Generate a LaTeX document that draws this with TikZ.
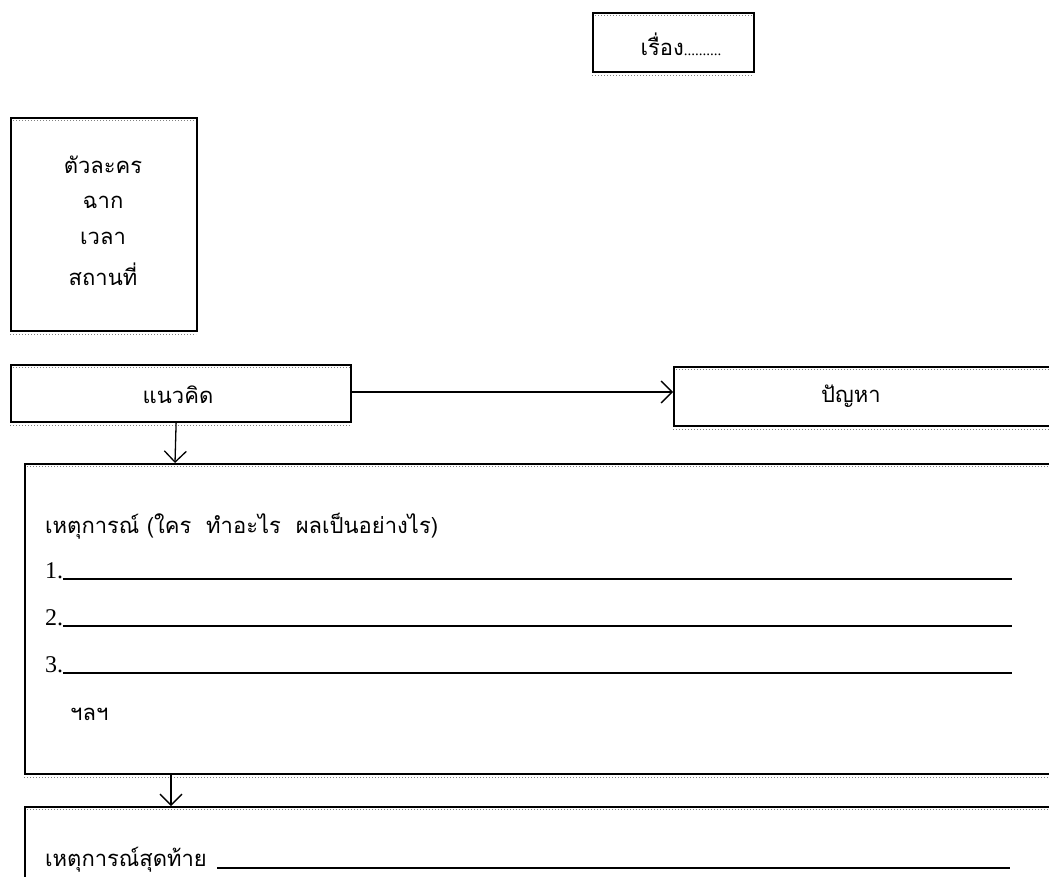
\documentclass[tikz,border=0pt]{standalone}
\usepackage{fontspec}
\setmainfont{Liberation Serif}
\newfontfamily\thai[Script=Thai]{Loma}
\usetikzlibrary{arrows.meta,calc}
\tikzset{
  boxshape/.style={draw=black, line width=2.2pt, rectangle, inner sep=0pt, anchor=north west},
  arr/.style={line width=1.3pt, -{Straight Barb[length=11pt,width=22pt,line width=1.3pt]}},
  txt/.style={font=\thai\fontsize{22}{26}\selectfont, inner sep=0pt},
  num/.style={font=\fontsize{24}{28}\selectfont, inner sep=0pt},
  uline/.style={line width=1.2pt},
  shadowline/.style={draw=gray, line width=1pt, dotted}
}
\begin{document}
\begin{tikzpicture}[x=1pt,y=-1pt]
\useasboundingbox (0,0) rectangle (1049,876);
\clip (0,0) rectangle (1049,876);
% decorative gray dotted borders
\foreach \xa/\ya/\xb/\yb in {592/12/753/71, 10/117/196/330, 10/364/350/421, 673/366/1070/425, 24/463/1070/773, 24/806/1070/900}{
  \draw[shadowline] (\xa,\ya+3) -- (\xb,\ya+3);
  \draw[shadowline] (\xa,\yb+4) -- (\xb,\yb+4);
}
% boxes
\node[boxshape, minimum width=161pt, minimum height=59pt] (title) at (592,12) {};
\node[boxshape, minimum width=186pt, minimum height=213pt] (setting) at (10,117) {};
\node[boxshape, minimum width=340pt, minimum height=57pt] (kid) at (10,364) {};
\node[boxshape, minimum width=397pt, minimum height=59pt] (prob) at (673,366) {};
\node[boxshape, minimum width=1046pt, minimum height=310pt] (event) at (24,463) {};
\node[boxshape, minimum width=1046pt, minimum height=94pt] (final) at (24,806) {};
% texts
\node[txt] (ttl) at (681,44) {เรื่อง\fontspec{Liberation Serif}\fontsize{15}{18}\selectfont..........};
\node[txt] (s1) at (103,165) {ตัวละคร};
\node[txt] (s2) at (103,202) {ฉาก};
\node[txt] (s3) at (103,238) {เวลา};
\node[txt] (s4) at (103,274) {สถานที่};
\node[txt] (kidt) at (178,395) {แนวคิด};
\node[txt] (probt) at (851,396) {ปัญหา};
\node[txt, anchor=base west] (evt) at (45,533) {เหตุการณ์ (ใคร\ \ ทำอะไร\ \ ผลเป็นอย่างไร)};
\node[num, anchor=base west] (n1) at (45,578) {1.};
\node[num, anchor=base west] (n2) at (45,625) {2.};
\node[num, anchor=base west] (n3) at (45,672) {3.};
\node[txt, anchor=base west] (etc) at (70,720) {ฯลฯ};
\node[txt, anchor=base west] (fin) at (45,866) {เหตุการณ์สุดท้าย};
\coordinate (e1) at (1012,579);
\coordinate (e2) at (1012,626);
\coordinate (e3) at (1012,673);
\coordinate (ef) at (1010,868);
\draw[uline] (n1.base east) ++(0,1) -- (e1);
\draw[uline] (n2.base east) ++(0,1) -- (e2);
\draw[uline] (n3.base east) ++(0,1) -- (e3);
\draw[uline] ($(fin.base east)+(10,2)$) -- (ef);
% connectors
\draw[arr] (kid.east |- 0,392) -- (prob.west |- 0,392);
\draw[arr] ([xshift=-5pt]kid.south) -- (175,0 |- event.north);
\draw[arr] (171,0 |- event.south) -- (171,0 |- final.north);
\end{tikzpicture}
\end{document}
